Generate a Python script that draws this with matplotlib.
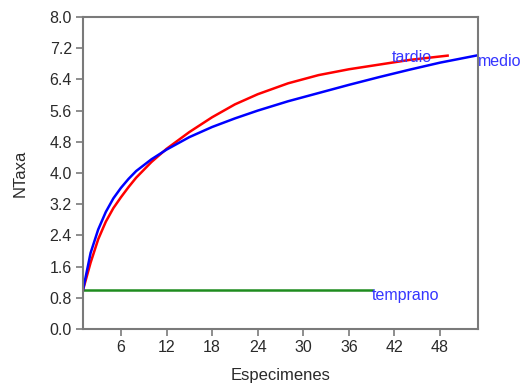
import matplotlib
matplotlib.use("Agg")
import matplotlib.pyplot as plt

plt.rcParams["font.family"] = ["Liberation Sans", "DejaVu Sans"]

# rarefaction curves
medio_x = [1, 2, 3, 4, 5, 6, 7, 8, 10, 12, 15, 18, 21, 24, 28, 32, 36, 40, 44, 48, 53]
medio_y = [1.0, 1.95, 2.55, 3.0, 3.35, 3.62, 3.85, 4.05, 4.35, 4.6, 4.92, 5.18, 5.4, 5.6,
           5.84, 6.05, 6.26, 6.46, 6.65, 6.83, 7.02]
tardio_x = [1, 2, 3, 4, 5, 6, 7, 8, 10, 12, 15, 18, 21, 24, 28, 32, 36, 40, 44, 49]
tardio_y = [1.0, 1.7, 2.3, 2.75, 3.1, 3.38, 3.64, 3.88, 4.28, 4.62, 5.05, 5.43, 5.76, 6.02,
            6.3, 6.51, 6.66, 6.78, 6.9, 7.01]
temprano_x = [1, 39]
temprano_y = [1.0, 1.0]

x_ticks = [6, 12, 18, 24, 30, 36, 42, 48]
y_ticks = [0.0, 0.8, 1.6, 2.4, 3.2, 4.0, 4.8, 5.6, 6.4, 7.2, 8.0]

GRAY = "#7a7a7a"
LABEL = "#3535ff"
TEXT = "#2a2a2a"

fig = plt.figure(figsize=(5.21, 3.85), dpi=100)
ax = fig.add_axes([0.1593, 0.1455, 0.7582, 0.8103])

ax.plot(temprano_x, temprano_y, color="#1e8c1e", linewidth=1.8)
ax.plot(tardio_x, tardio_y, color="#ff0000", linewidth=1.8)
ax.plot(medio_x, medio_y, color="#0000ff", linewidth=1.8)

ax.text(41.7, 6.97, "tardio", color=LABEL, fontsize=11.5, ha="left", va="center")
ax.text(medio_x[-1], 6.85, "medio", color=LABEL, fontsize=11.5, ha="left", va="center", clip_on=False)
ax.text(temprano_x[-1], 0.86, "temprano", color=LABEL, fontsize=11.5, ha="left", va="center")

ax.set_xlim(1, 53)
ax.set_ylim(0, 8.0)
ax.set_xticks(x_ticks)
ax.set_yticks(y_ticks)
ax.set_yticklabels([f"{v:.1f}" for v in y_ticks])

for spine in ax.spines.values():
    spine.set_color(GRAY)
    spine.set_linewidth(1.5)
ax.tick_params(direction="out", length=5, width=1.2, color=GRAY, labelsize=11.5, labelcolor=TEXT, pad=3)

ax.set_xlabel("Especimenes", fontsize=12, color=TEXT, labelpad=9)
ax.set_ylabel("NTaxa", fontsize=12, color=TEXT, labelpad=16)

fig.savefig("out.png", dpi=100)
